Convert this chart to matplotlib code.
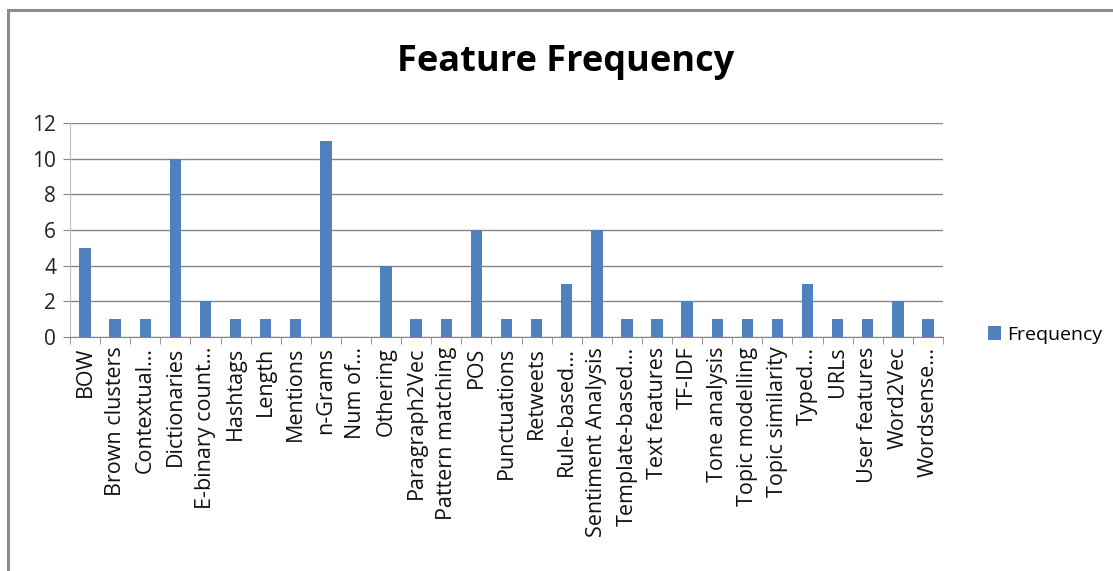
import matplotlib
matplotlib.use("Agg")
import matplotlib.pyplot as plt
import numpy as np
from matplotlib.patches import Rectangle

features = [
    "BOW", "Brown clusters", "Contextual\u2026", "Dictionaries", "E-binary count\u2026",
    "Hashtags", "Length", "Mentions", "n-Grams", "Num of\u2026", "Othering",
    "Paragraph2Vec", "Pattern matching", "POS", "Punctuations", "Retweets",
    "Rule-based\u2026", "Sentiment Analysis", "Template-based\u2026", "Text features",
    "TF-IDF", "Tone analysis", "Topic modelling", "Topic similarity", "Typed\u2026",
    "URLs", "User features", "Word2Vec", "Wordsense\u2026",
]
frequency = [5, 1, 1, 10, 2, 1, 1, 1, 11, 0, 4, 1, 1, 6, 1, 1, 3, 6, 1, 1, 2, 1, 1, 1, 3, 1, 1, 2, 1]
y_ticks = [0, 2, 4, 6, 8, 10, 12]

BAR = "#4f81bd"
GRID = "#868686"
FONT = ["Open Sans", "DejaVu Sans"]

W, H = 1113, 571
fig = plt.figure(figsize=(W / 100, H / 100), dpi=100)
fig.patch.set_facecolor("white")

# outer chart border (runs off the right and bottom edges)
fig.patches.append(Rectangle((8 / W, -0.05), 1.1, 1 - 10 / H + 0.05,
                             transform=fig.transFigure, fill=False,
                             edgecolor="#8c8c8c", linewidth=2.2))

ax = fig.add_axes([70 / W, 1 - 337 / H, (943 - 70) / W, (337 - 123) / H])
x = np.arange(len(features))
ax.bar(x, frequency, width=0.38, color=BAR, zorder=3, label="Frequency")

ax.set_xlim(-0.5, len(features) - 0.5)
ax.set_ylim(0, 12)
ax.set_yticks(y_ticks)
ax.set_yticklabels([str(v) for v in y_ticks], fontsize=15, family=FONT, color="#222222")
ax.grid(axis="y", color=GRID, linewidth=1.0, zorder=0)

ax.set_xticks(x)
ax.set_xticklabels(features, rotation=90, fontsize=15.5, family=FONT, color="#111111")
ax.set_xticks(np.arange(len(features) + 1) - 0.5, minor=True)
ax.tick_params(axis="x", which="major", length=0, pad=7)
ax.tick_params(axis="x", which="minor", length=5, color=GRID, direction="out")
ax.tick_params(axis="y", length=5, color=GRID, direction="out", pad=5)

for side in ["top", "right"]:
    ax.spines[side].set_visible(False)
ax.spines["left"].set_color("#bfbfbf")
ax.spines["bottom"].set_color(GRID)

fig.text(566 / W, 1 - 62 / H, "Feature Frequency", ha="center", va="center",
         fontsize=26, fontweight="bold", family=FONT)

leg = fig.legend(loc="center left", bbox_to_anchor=(970 / W, 1 - 335 / H),
                 frameon=False, prop={"family": FONT, "size": 14},
                 handlelength=0.7, handleheight=0.7, handletextpad=0.3)

fig.savefig("out.png", dpi=100)
